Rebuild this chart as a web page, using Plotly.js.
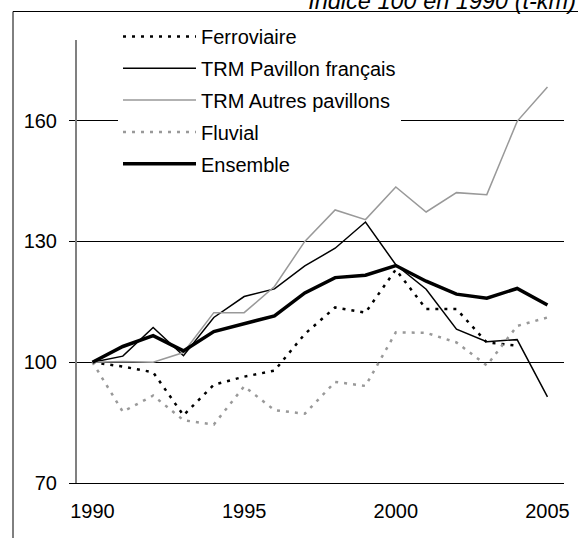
<!DOCTYPE html>
<html>
<head>
<meta charset="utf-8">
<script src="https://cdn.plot.ly/plotly-3.0.1.min.js"></script>
<style>
html,body{margin:0;padding:0;background:#ffffff;}
#chart{width:578px;height:538px;}
</style>
</head>
<body>
<div id="chart"></div>
<script>
// Data (indice 100 en 1990, t-km)
const years = [1990,1991,1992,1993,1994,1995,1996,1997,1998,1999,2000,2001,2002,2003,2004,2005];
const ferroviaire = [100,98.9,97.5,86.8,94.4,96.4,97.9,107.0,113.6,112.3,123.0,113.2,113.2,104.9,104.1,null];
const pavillonFrancais = [100,101.5,108.6,101.6,111.1,116.3,118.2,123.9,128.3,134.8,124.2,118.1,108.2,105.1,105.6,91.4];
const autresPavillons = [100,100.2,100.0,102.4,112.3,112.3,118.8,130.0,137.8,135.4,143.5,137.3,142.1,141.6,159.8,168.3];
const fluvial = [100,87.7,91.7,85.6,84.5,94.0,88.1,87.2,95.1,94.1,107.4,107.3,104.9,99.2,109.0,111.1];
const ensemble = [100,103.9,106.6,102.8,107.6,109.5,111.5,117.2,121.0,121.6,124.0,120.1,116.9,115.9,118.3,114.2];

const seriesNames = ["Ferroviaire","TRM Pavillon français","TRM Autres pavillons","Fluvial","Ensemble"];
const xTickYears = [1990,1995,2000,2005];
const xTickLabels = ["1990","1995","2000","2005"];
const yTickVals = [70,100,130,160];
const yTickLabels = ["70","100","130","160"];
const titleText = "Indice 100 en 1990 (t-km)";

const FONT = "Arial, 'Liberation Sans', sans-serif";
const GREY = "#999999";

function mk(name, y, color, width, dash, grp) {
  return {
    type: "scatter", mode: "lines", name: name, x: years, y: y,
    line: {color: color, width: width, dash: dash},
    legendgroup: grp, connectgaps: false, hoverinfo: "skip"
  };
}

const data = [
  mk(seriesNames[0], ferroviaire, "#000000", 2.5, "3px,6px", "g1"),
  mk(seriesNames[1], pavillonFrancais, "#000000", 1.5, "solid", "g2"),
  mk(seriesNames[2], autresPavillons, GREY, 1.5, "solid", "g3"),
  mk(seriesNames[3], fluvial, GREY, 2.5, "3px,6px", "g4"),
  mk(seriesNames[4], ensemble, "#000000", 3.5, "solid", "g5")
];

const xr = [1989.49, 2005.545];

const layout = {
  width: 578, height: 538,
  margin: {l: 77, r: 14, t: 40, b: 55, pad: 0},
  paper_bgcolor: "#ffffff", plot_bgcolor: "#ffffff",
  font: {family: FONT, size: 20, color: "#000000"},
  title: {
    text: titleText,
    font: {family: FONT, size: 23.5, color: "#000000", style: "italic"},
    xref: "container", yref: "container",
    x: 576/578, xanchor: "right",
    y: 1 - 9/538, yanchor: "bottom"
  },
  showlegend: true,
  legend: {
    x: (118-77)/487, xanchor: "left",
    y: 1 + (40-17)/443, yanchor: "top",
    bgcolor: "#ffffff", borderwidth: 0,
    font: {family: FONT, size: 20, color: "#000000"},
    itemwidth: 73, tracegroupgap: 2.8, traceorder: "grouped"
  },
  xaxis: {
    range: xr, type: "linear",
    tickmode: "array", tickvals: xTickYears, ticktext: xTickLabels,
    ticks: "", showgrid: false, zeroline: false,
    showline: true, linecolor: "#000000", linewidth: 1,
    tickfont: {family: FONT, size: 20, color: "#000000"},
    ticklabelstandoff: 10,
    fixedrange: true
  },
  xaxis2: {
    range: xr, type: "linear", overlaying: "x", anchor: "y", side: "bottom",
    tickmode: "array", tickvals: xTickYears.map(v => v - 0.5),
    ticks: "outside", ticklen: 6, tickwidth: 1, tickcolor: "#666666",
    showticklabels: false, showgrid: false, zeroline: false, showline: false,
    fixedrange: true
  },
  yaxis: {
    range: [70, 180], type: "linear",
    tickmode: "array", tickvals: yTickVals, ticktext: yTickLabels,
    ticks: "outside", ticklen: 6, tickwidth: 1, tickcolor: "#000000",
    showgrid: true, gridcolor: "#000000", gridwidth: 1,
    zeroline: false,
    showline: true, linecolor: "#808080", linewidth: 2,
    tickfont: {family: FONT, size: 20, color: "#000000"},
    ticklabelstandoff: 8,
    fixedrange: true
  },
  shapes: [{
    type: "rect", xref: "paper", yref: "paper",
    x0: (13-77)/487, x1: 1.2, y0: -0.3, y1: 1 + (40-11.5)/443,
    line: {color: "#000000", width: 1}, fillcolor: "rgba(0,0,0,0)", layer: "below"
  }]
};

Plotly.newPlot("chart", data, layout, {displayModeBar: false, staticPlot: true});
</script>
</body>
</html>
